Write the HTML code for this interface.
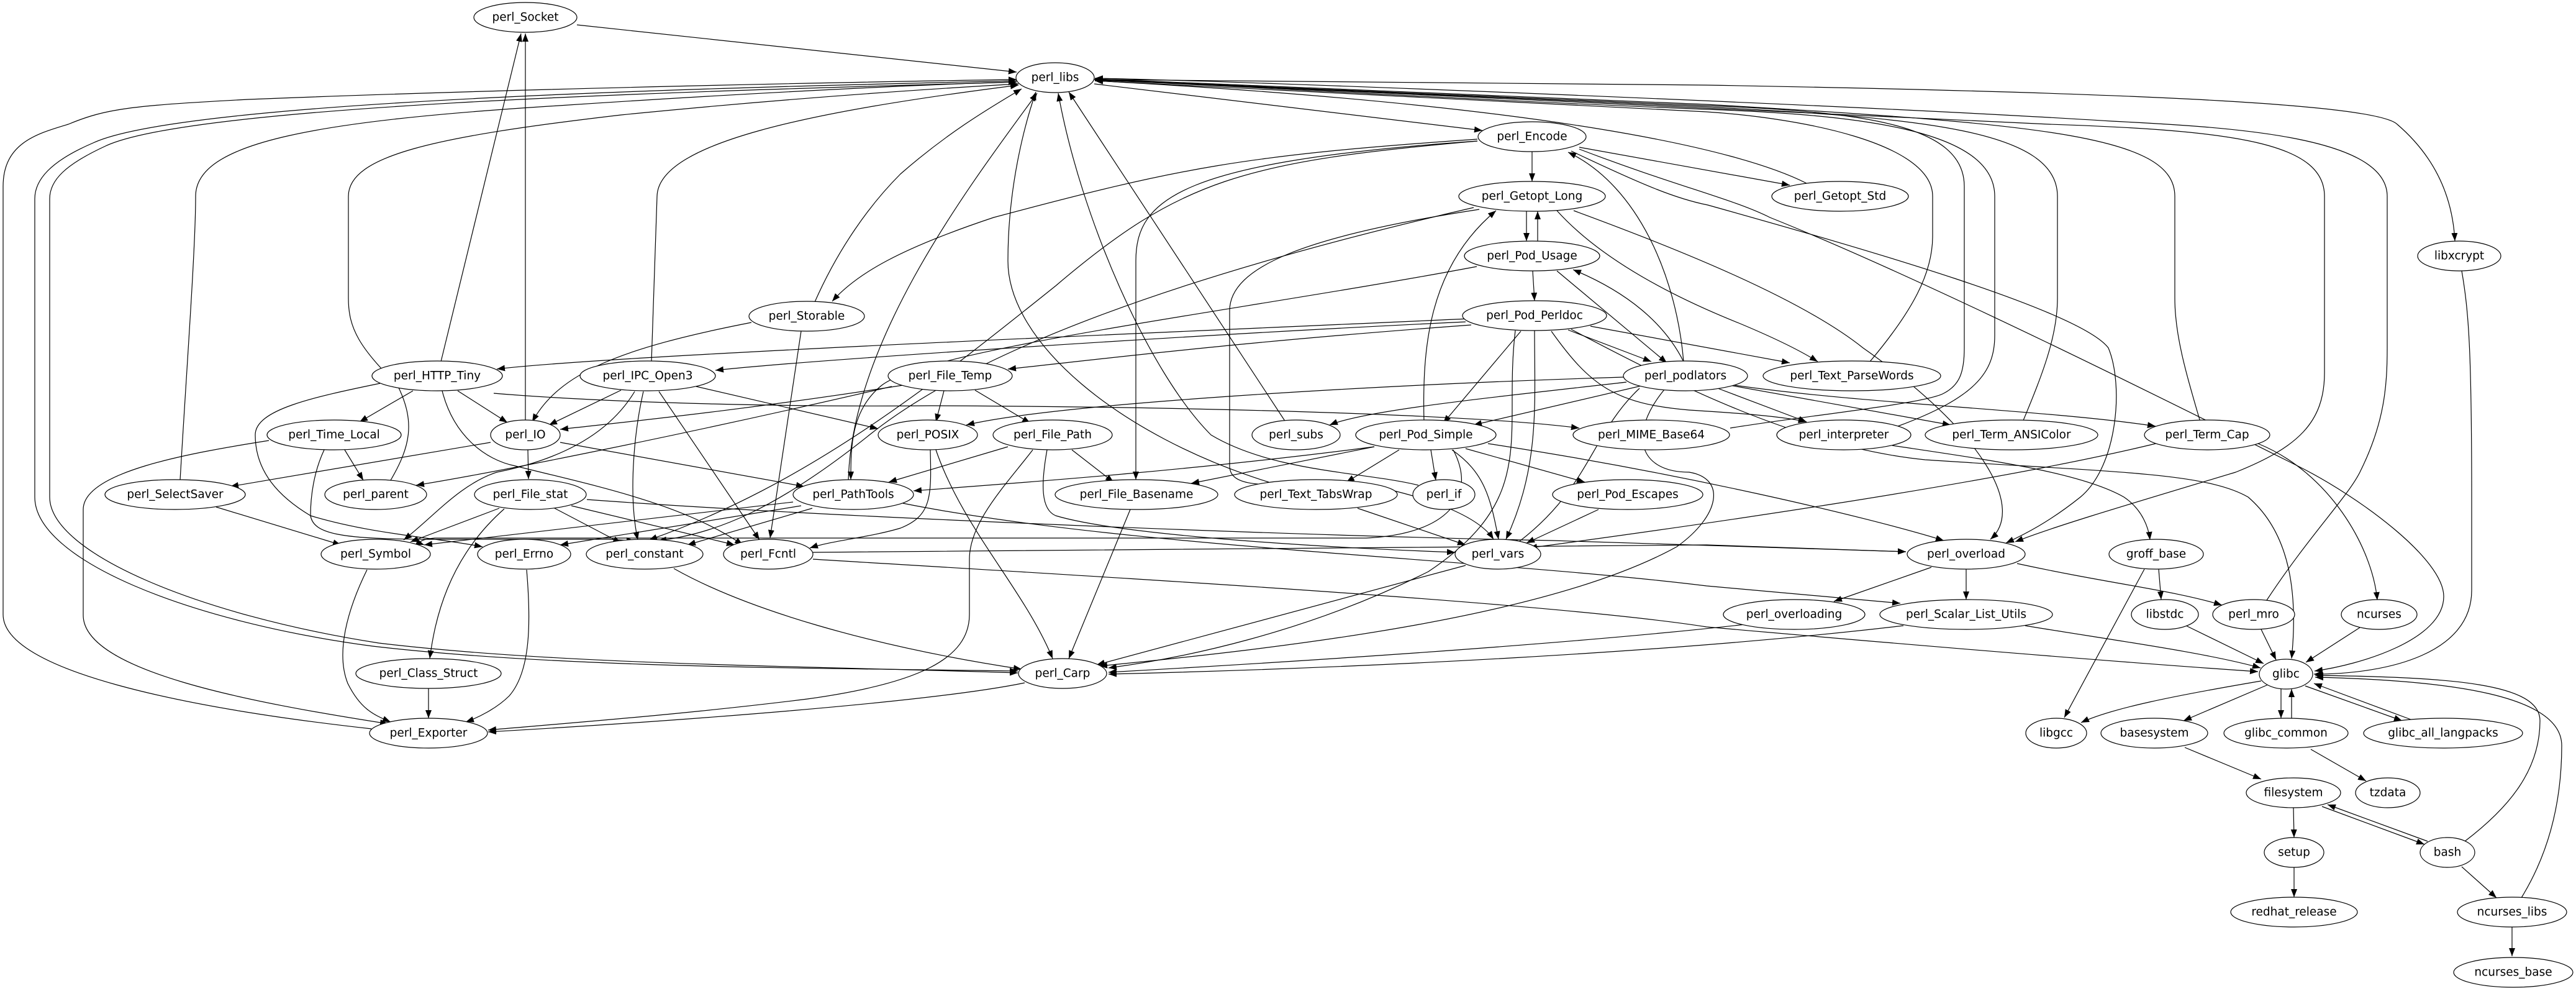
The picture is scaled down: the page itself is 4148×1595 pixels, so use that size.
<!DOCTYPE html>
<html><head><meta charset="utf-8"><style>
html,body{margin:0;padding:0;background:#fff;}
svg{display:block;}
text{font-family:"DejaVu Sans","Liberation Sans",sans-serif;font-size:18.5px;fill:#000;}
</style></head><body>
<svg width="4148" height="1595" viewBox="0 0 4148 1595" xmlns="http://www.w3.org/2000/svg">
<defs>
<marker id="a" markerUnits="userSpaceOnUse" markerWidth="14" markerHeight="12" refX="13" refY="5" orient="auto">
<path d="M0,0 L13,5 L0,10 Z" fill="#000"/>
</marker>
</defs>
<g fill="none" stroke="#000" stroke-width="1.2" marker-end="url(#a)">
<path d="M929,40 L1637,116"/>
<path d="M1762,135 L2387,210"/>
<path d="M1762,128 L2748,137 C3500,150 3830,170 3860,200 C3930,260 3950,330 3953,388"/>
<path d="M3964,436 C3975,500 3980,560 3980,800 L3980,950 C3980,1050 3850,1085 3726,1085"/>
<path d="M598,1173 C300,1140 5,1080 5,989 L5,300 C5,230 60,215 110,200 C170,175 210,170 400,160 C900,140 1500,130 1637,128"/>
<path d="M1637,130 C1200,140 300,160 150,230 C80,260 56,290 56,320 L56,800 C56,900 300,1000 600,1040 C900,1075 1300,1075 1639,1080"/>
<path d="M1637,132 C1200,145 320,165 170,235 C105,265 80,290 80,320 L80,800 C80,890 320,990 610,1035 C900,1070 1300,1072 1639,1083"/>
<path d="M290,773 C300,600 315,400 315,316 C315,230 500,195 900,170 C1200,150 1500,135 1637,132"/>
<path d="M629,773 C660,720 670,680 640,620 C580,560 561,530 561,480 L561,316 C561,250 700,220 1000,185 C1300,155 1550,140 1640,135"/>
<path d="M1312,486 C1350,400 1400,330 1450,280 C1530,210 1600,170 1645,143"/>
<path d="M1049,582 L1058,316 C1060,230 1300,180 1640,137"/>
<path d="M710,582 L839,54"/>
<path d="M846,679 L846,54"/>
<path d="M2379,224 C2000,250 1900,270 1600,350 C1450,400 1380,440 1340,485"/>
<path d="M2379,227 C2000,260 1900,290 1700,460 C1500,620 1300,780 1045,869"/>
<path d="M2379,227 C1900,260 1829,320 1829,420 L1829,772"/>
<path d="M2467,244 L2467,292"/>
<path d="M2543,237 L2882,298"/>
<path d="M2543,240 C2700,300 2790,320 2850,350 C3100,450 3500,650 3700,750 C3800,800 3935,900 3935,960 C3935,1030 3800,1070 3727,1080"/>
<path d="M2530,243 C2650,300 2700,320 2750,330 C3000,400 3350,500 3395,560 C3420,620 3410,750 3350,800 C3300,840 3260,860 3230,874"/>
<path d="M2711,582 C2700,450 2640,300 2525,245"/>
<path d="M2458,340 L2458,388"/>
<path d="M2476,388 L2476,340"/>
<path d="M2468,436 L2471,484"/>
<path d="M2507,339 C2580,420 2700,480 2800,520 C2860,545 2900,565 2927,582"/>
<path d="M2534,339 C2700,400 2900,480 3000,560 C3200,700 3260,820 3205,868"/>
<path d="M2373,334 C2000,420 1600,540 1400,700 C1250,820 1150,860 1060,870"/>
<path d="M2382,337 C2100,380 1980,430 1980,500 L1980,750 C1980,800 2100,770 2200,780 C2300,800 2380,830 2405,868"/>
<path d="M2378,429 C2000,500 1500,560 1420,620 C1370,660 1370,720 1370,772"/>
<path d="M2711,582 C2680,520 2620,470 2533,434"/>
<path d="M2507,436 C2560,480 2620,530 2684,584"/>
<path d="M2525,531 L2659,582"/>
<path d="M2364,513 C2000,530 1000,570 800,594"/>
<path d="M2360,518 C1900,540 1300,580 1152,596"/>
<path d="M2369,523 C2000,550 1800,575 1623,594"/>
<path d="M2449,533 L2324,681"/>
<path d="M2561,525 L2882,584"/>
<path d="M2498,533 C2560,620 2600,650 2720,660 C2800,665 2870,670 2909,679"/>
<path d="M2471,532 C2471,650 2480,750 2425,868"/>
<path d="M2440,532 C2420,700 2480,800 2300,920 C2100,1020 1900,1060 1785,1075"/>
<path d="M2614,607 C2200,620 1700,650 1556,684"/>
<path d="M2619,615 C2400,640 2200,660 2141,684"/>
<path d="M2647,620 L2373,684"/>
<path d="M2766,625 L2909,679"/>
<path d="M2785,620 L3141,684"/>
<path d="M2793,620 C3000,650 3300,660 3471,686"/>
<path d="M2640,625 C2560,700 2560,790 2435,880"/>
<path d="M2680,627 C2620,700 2640,760 2720,760 C2780,770 2770,830 2700,880 C2500,990 2100,1040 1770,1072"/>
<path d="M2786,689 C2900,670 3100,650 3130,633 C3155,620 3163,600 3163,560 L3163,300 C3163,200 3000,180 2748,170 C2300,150 1900,133 1763,128"/>
<path d="M3011,582 C3080,500 3112,440 3112,380 L3112,316 C3112,230 2900,190 2748,180 C2300,160 1900,135 1763,130"/>
<path d="M3056,686 C3180,640 3212,600 3212,540 L3212,316 C3212,210 3000,185 2748,176 C2300,158 1900,133 1763,129"/>
<path d="M3257,679 C3290,600 3313,540 3313,480 L3313,316 C3313,210 3100,190 2748,172 C2300,155 1900,132 1763,128"/>
<path d="M3543,679 C3520,600 3502,540 3502,480 L3502,316 C3502,220 3300,200 2748,168 C2300,150 1900,130 1763,127"/>
<path d="M1763,128 C2500,160 3000,190 3300,200 C3600,210 3743,230 3743,316 L3743,600 C3743,680 3700,720 3600,760 C3400,820 3300,850 3245,872"/>
<path d="M3650,966 C3720,860 3780,800 3800,760 C3840,680 3844,620 3844,560 L3844,316 C3844,220 3600,205 3400,195 C3000,170 2000,130 1763,126"/>
<path d="M1309,889 L2748,877 L3069,888"/>
<path d="M1309,900 C1800,930 2500,970 2748,1009 C3100,1040 3400,1065 3636,1081"/>
<path d="M3636,714 C3750,760 3820,880 3828,966"/>
<path d="M3471,714 C3200,780 2700,850 2462,882"/>
<path d="M3047,717 C3200,740 3350,760 3420,800 C3450,820 3460,850 3462,869"/>
<path d="M3476,916 L3480,965"/>
<path d="M3453,916 L3324,1155"/>
<path d="M3110,913 L2953,968"/>
<path d="M3166,916 L3166,965"/>
<path d="M3248,907 C3400,940 3500,950 3578,974"/>
<path d="M2810,1005 C2500,1040 2000,1070 1785,1082"/>
<path d="M3065,1007 C2700,1050 2200,1075 1785,1085"/>
<path d="M3261,1007 C3400,1030 3550,1050 3640,1075"/>
<path d="M3520,1007 L3645,1068"/>
<path d="M3641,1013 L3665,1062"/>
<path d="M3800,1010 L3713,1066"/>
<path d="M3641,1096 C3500,1120 3400,1140 3351,1163"/>
<path d="M3652,1102 L3516,1160"/>
<path d="M3673,1109 L3673,1156"/>
<path d="M3690,1156 L3690,1109"/>
<path d="M3712,1104 L3868,1160"/>
<path d="M3882,1158 L3726,1100"/>
<path d="M3721,1206 L3810,1257"/>
<path d="M3518,1203 L3641,1254"/>
<path d="M3693,1300 L3694,1348"/>
<path d="M3694,1396 L3694,1444"/>
<path d="M3739,1298 L3904,1359"/>
<path d="M3909,1354 L3748,1295"/>
<path d="M3964,1395 L4020,1445"/>
<path d="M4045,1492 L4045,1539"/>
<path d="M3969,1354 C4040,1300 4090,1240 4090,1160 C4090,1100 3950,1090 3728,1087"/>
<path d="M4060,1445 C4100,1380 4125,1300 4125,1200 C4125,1120 3950,1095 3728,1090"/>
<path d="M737,629 L817,680"/>
<path d="M665,629 L579,679"/>
<path d="M795,633 C1000,650 1300,655 1500,653 C2000,655 2400,670 2543,689"/>
<path d="M712,629 C730,700 780,740 830,750 C950,780 1100,810 1196,877"/>
<path d="M612,617 C500,640 411,660 411,700 C411,760 450,800 500,830 C600,860 700,865 777,880"/>
<path d="M555,724 L585,773"/>
<path d="M433,709 C300,730 134,760 134,820 L134,990 C134,1080 400,1130 625,1165"/>
<path d="M522,724 C505,760 500,800 500,830 C505,860 550,868 700,868 L980,868 C1000,869 1010,870 1022,870"/>
<path d="M790,712 L371,783"/>
<path d="M850,724 L851,771"/>
<path d="M902,712 L1295,783"/>
<path d="M1000,628 L884,684"/>
<path d="M1022,630 C980,700 900,740 800,760 C740,780 700,830 650,869"/>
<path d="M1036,630 C1020,700 1012,800 1027,869"/>
<path d="M1061,630 L1223,869"/>
<path d="M1121,622 L1414,690"/>
<path d="M1454,620 C1200,660 1000,680 902,691"/>
<path d="M1436,622 C1100,700 800,760 670,781"/>
<path d="M1520,629 L1507,679"/>
<path d="M1570,628 L1659,681"/>
<path d="M1623,719 L1431,776"/>
<path d="M1726,724 L1793,776"/>
<path d="M1663,724 C1620,780 1561,840 1561,900 L1561,989 C1561,1060 1480,1100 1300,1125 C1100,1150 900,1165 786,1175"/>
<path d="M1686,724 C1676,780 1676,820 1700,830 C1800,860 2100,880 2343,889"/>
<path d="M1507,724 C1550,850 1650,950 1695,1060"/>
<path d="M1498,724 C1500,800 1500,830 1450,850 C1400,865 1340,870 1304,882"/>
<path d="M1820,820 L1721,1060"/>
<path d="M1277,808 L683,877"/>
<path d="M1290,814 L902,877"/>
<path d="M1308,818 L1107,877"/>
<path d="M1454,810 C1800,880 2400,900 2748,943 L3060,971"/>
<path d="M1366,776 C1370,550 1560,300 1670,150"/>
<path d="M804,818 L661,872"/>
<path d="M893,818 L1000,874"/>
<path d="M920,814 L1183,877"/>
<path d="M812,819 C720,900 700,1000 692,1060"/>
<path d="M945,804 C1300,830 2000,860 2500,870 C2800,878 3000,885 3069,888"/>
<path d="M348,816 L549,877"/>
<path d="M591,917 C560,980 540,1050 560,1100 C580,1140 600,1150 629,1162"/>
<path d="M848,917 C855,1000 855,1080 820,1120 C800,1140 770,1155 750,1162"/>
<path d="M690,1108 L690,1156"/>
<path d="M1085,915 C1200,980 1400,1040 1645,1077"/>
<path d="M1650,1099 C1500,1130 1100,1160 786,1178"/>
<path d="M2213,719 L1918,778"/>
<path d="M2213,719 C1900,760 1600,780 1471,790"/>
<path d="M2253,724 L2168,776"/>
<path d="M2304,724 L2312,773"/>
<path d="M2360,722 L2552,776"/>
<path d="M2396,714 C2700,760 3000,830 3130,870"/>
<path d="M2293,679 C2290,560 2300,430 2409,339"/>
<path d="M2338,724 C2390,760 2400,800 2413,868"/>
<path d="M2340,724 C2380,800 2330,860 2200,866 L700,866 C680,868 670,872 683,877"/>
<path d="M2186,818 L2360,877"/>
<path d="M2043,776 C1800,700 1623,550 1623,420 C1623,300 1650,200 1668,148"/>
<path d="M2284,781 C2200,760 2050,760 1950,700 C1850,600 1740,350 1704,150"/>
<path d="M2070,679 L1721,148"/>
<path d="M2574,820 L2458,874"/>
<path d="M2360,910 L1766,1070"/>
<path d="M2909,295 C2800,240 2500,170 1763,130"/>
<path d="M1210,519 C1000,560 900,600 857,679"/>
<path d="M1290,533 L1240,866"/>
<path d="M2530,530 C2700,620 2900,720 3100,740 C3400,760 3550,760 3620,800 C3690,860 3700,960 3690,1060"/>
</g>
<g fill="#fff" stroke="#000" stroke-width="1.2">
<ellipse cx="846" cy="28" rx="83" ry="24"/>
<ellipse cx="1699" cy="125" rx="63" ry="24"/>
<ellipse cx="2467" cy="220" rx="87" ry="24"/>
<ellipse cx="2467" cy="316" rx="118" ry="24"/>
<ellipse cx="2963" cy="316" rx="110" ry="24"/>
<ellipse cx="2467" cy="412" rx="109" ry="24"/>
<ellipse cx="3960" cy="412" rx="67" ry="24"/>
<ellipse cx="1299" cy="509" rx="93" ry="24"/>
<ellipse cx="2471" cy="508" rx="116" ry="24"/>
<ellipse cx="704" cy="605" rx="105" ry="24"/>
<ellipse cx="1043" cy="605" rx="109" ry="24"/>
<ellipse cx="1530" cy="605" rx="100" ry="24"/>
<ellipse cx="2714" cy="605" rx="100" ry="24"/>
<ellipse cx="2982" cy="605" rx="143" ry="24"/>
<ellipse cx="538" cy="700" rx="108" ry="24"/>
<ellipse cx="846" cy="700" rx="56" ry="24"/>
<ellipse cx="1494" cy="700" rx="80" ry="24"/>
<ellipse cx="1695" cy="700" rx="96" ry="24"/>
<ellipse cx="2087" cy="700" rx="71" ry="24"/>
<ellipse cx="2296" cy="700" rx="113" ry="24"/>
<ellipse cx="2659" cy="700" rx="126" ry="24"/>
<ellipse cx="2969" cy="700" rx="108" ry="24"/>
<ellipse cx="3239" cy="700" rx="139" ry="24"/>
<ellipse cx="3554" cy="700" rx="101" ry="24"/>
<ellipse cx="282" cy="796" rx="113" ry="24"/>
<ellipse cx="605" cy="796" rx="82" ry="24"/>
<ellipse cx="854" cy="796" rx="90" ry="24"/>
<ellipse cx="1374" cy="796" rx="97" ry="24"/>
<ellipse cx="1830" cy="796" rx="131" ry="24"/>
<ellipse cx="2119" cy="796" rx="131" ry="24"/>
<ellipse cx="2325" cy="796" rx="50" ry="24"/>
<ellipse cx="2621" cy="796" rx="121" ry="24"/>
<ellipse cx="605" cy="892" rx="88" ry="24"/>
<ellipse cx="844" cy="892" rx="75" ry="24"/>
<ellipse cx="1038" cy="892" rx="94" ry="24"/>
<ellipse cx="1237" cy="892" rx="72" ry="24"/>
<ellipse cx="2412" cy="892" rx="69" ry="24"/>
<ellipse cx="3166" cy="892" rx="95" ry="24"/>
<ellipse cx="3472" cy="892" rx="76" ry="24"/>
<ellipse cx="2889" cy="989" rx="114" ry="24"/>
<ellipse cx="3166" cy="989" rx="139" ry="24"/>
<ellipse cx="3486" cy="989" rx="54" ry="24"/>
<ellipse cx="3629" cy="989" rx="66" ry="24"/>
<ellipse cx="3831" cy="989" rx="61" ry="24"/>
<ellipse cx="690" cy="1084" rx="117" ry="24"/>
<ellipse cx="1711" cy="1084" rx="71" ry="24"/>
<ellipse cx="3681" cy="1085" rx="43" ry="24"/>
<ellipse cx="690" cy="1180" rx="95" ry="24"/>
<ellipse cx="3311" cy="1180" rx="49" ry="24"/>
<ellipse cx="3469" cy="1180" rx="86" ry="24"/>
<ellipse cx="3681" cy="1180" rx="100" ry="24"/>
<ellipse cx="3934" cy="1180" rx="128" ry="24"/>
<ellipse cx="3693" cy="1276" rx="76" ry="24"/>
<ellipse cx="3845" cy="1276" rx="52" ry="24"/>
<ellipse cx="3694" cy="1372" rx="48" ry="24"/>
<ellipse cx="3941" cy="1372" rx="44" ry="24"/>
<ellipse cx="3694" cy="1468" rx="102" ry="24"/>
<ellipse cx="4045" cy="1468" rx="88" ry="24"/>
<ellipse cx="4047" cy="1565" rx="96" ry="24"/>
</g>
<g text-anchor="middle" dominant-baseline="central">
<text x="846" y="28">perl_Socket</text>
<text x="1699" y="125">perl_libs</text>
<text x="2467" y="220">perl_Encode</text>
<text x="2467" y="316">perl_Getopt_Long</text>
<text x="2963" y="316">perl_Getopt_Std</text>
<text x="2467" y="412">perl_Pod_Usage</text>
<text x="3960" y="412">libxcrypt</text>
<text x="1299" y="509">perl_Storable</text>
<text x="2471" y="508">perl_Pod_Perldoc</text>
<text x="704" y="605">perl_HTTP_Tiny</text>
<text x="1043" y="605">perl_IPC_Open3</text>
<text x="1530" y="605">perl_File_Temp</text>
<text x="2714" y="605">perl_podlators</text>
<text x="2982" y="605">perl_Text_ParseWords</text>
<text x="538" y="700">perl_Time_Local</text>
<text x="846" y="700">perl_IO</text>
<text x="1494" y="700">perl_POSIX</text>
<text x="1695" y="700">perl_File_Path</text>
<text x="2087" y="700">perl_subs</text>
<text x="2296" y="700">perl_Pod_Simple</text>
<text x="2659" y="700">perl_MIME_Base64</text>
<text x="2969" y="700">perl_interpreter</text>
<text x="3239" y="700">perl_Term_ANSIColor</text>
<text x="3554" y="700">perl_Term_Cap</text>
<text x="282" y="796">perl_SelectSaver</text>
<text x="605" y="796">perl_parent</text>
<text x="854" y="796">perl_File_stat</text>
<text x="1374" y="796">perl_PathTools</text>
<text x="1830" y="796">perl_File_Basename</text>
<text x="2119" y="796">perl_Text_TabsWrap</text>
<text x="2325" y="796">perl_if</text>
<text x="2621" y="796">perl_Pod_Escapes</text>
<text x="605" y="892">perl_Symbol</text>
<text x="844" y="892">perl_Errno</text>
<text x="1038" y="892">perl_constant</text>
<text x="1237" y="892">perl_Fcntl</text>
<text x="2412" y="892">perl_vars</text>
<text x="3166" y="892">perl_overload</text>
<text x="3472" y="892">groff_base</text>
<text x="2889" y="989">perl_overloading</text>
<text x="3166" y="989">perl_Scalar_List_Utils</text>
<text x="3486" y="989">libstdc</text>
<text x="3629" y="989">perl_mro</text>
<text x="3831" y="989">ncurses</text>
<text x="690" y="1084">perl_Class_Struct</text>
<text x="1711" y="1084">perl_Carp</text>
<text x="3681" y="1085">glibc</text>
<text x="690" y="1180">perl_Exporter</text>
<text x="3311" y="1180">libgcc</text>
<text x="3469" y="1180">basesystem</text>
<text x="3681" y="1180">glibc_common</text>
<text x="3934" y="1180">glibc_all_langpacks</text>
<text x="3693" y="1276">filesystem</text>
<text x="3845" y="1276">tzdata</text>
<text x="3694" y="1372">setup</text>
<text x="3941" y="1372">bash</text>
<text x="3694" y="1468">redhat_release</text>
<text x="4045" y="1468">ncurses_libs</text>
<text x="4047" y="1565">ncurses_base</text>
</g>
</svg>
</body></html>
